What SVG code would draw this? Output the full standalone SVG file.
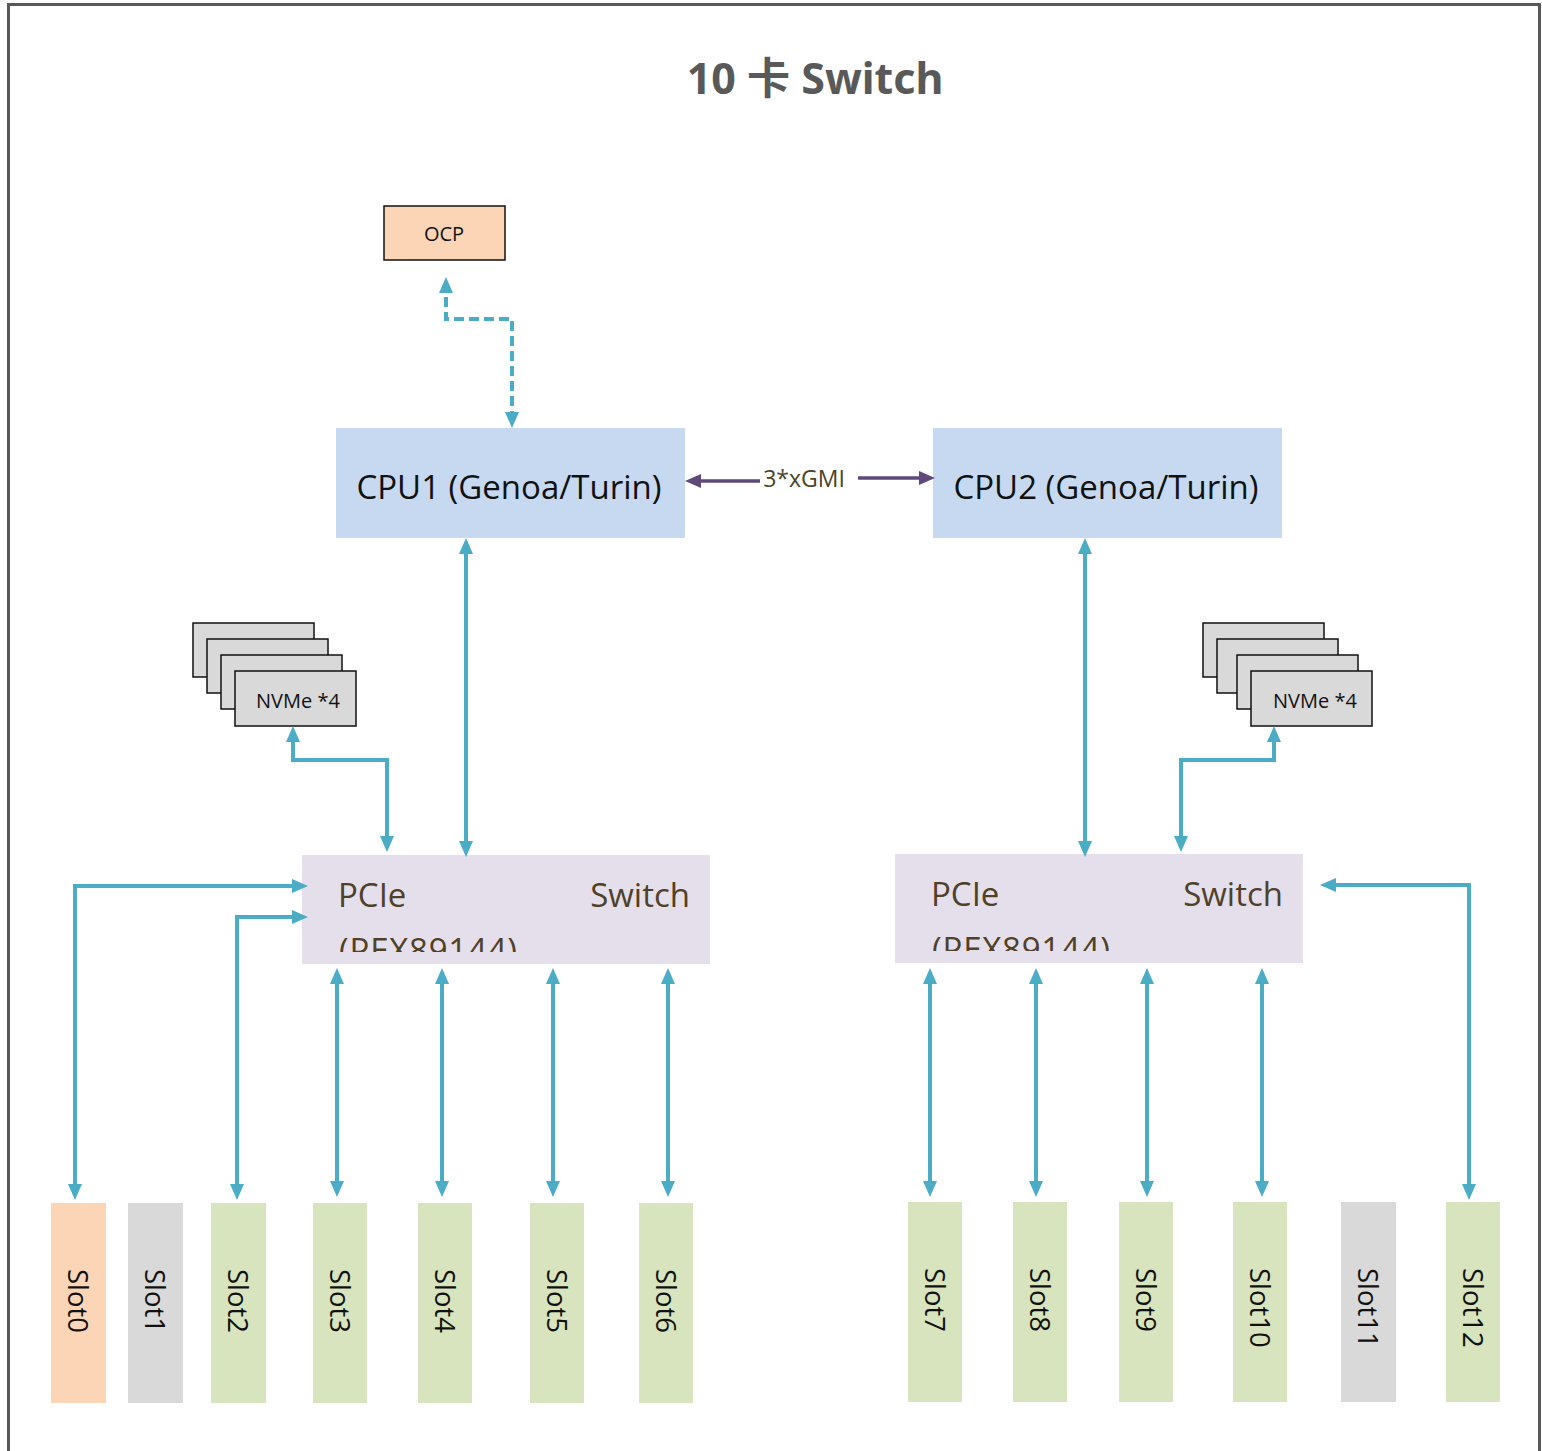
<svg xmlns="http://www.w3.org/2000/svg" width="1542" height="1451" viewBox="0 0 1542 1451">
<style>
.lbl{font-family:"Open Sans","Noto Sans","Liberation Sans",sans-serif;}
.cpu{fill:#C6D9F1;}
.cpuT{font-size:33px;fill:#111;text-anchor:middle;}
.sw{fill:#E5DFEC;}
.swT{font-size:33px;fill:#4F4128;}
.nv{fill:#D9D9D9;stroke:#111;stroke-width:1.5;}
.nvT{font-size:20px;fill:#111;text-anchor:middle;}
.slotT{font-size:27.5px;fill:#111;}
.con{fill:none;stroke:#4BACC6;stroke-width:4;marker-start:url(#ab);marker-end:url(#ab);}
.gmi{fill:none;stroke:#5F497A;stroke-width:3.5;marker-end:url(#ap);}
</style>
<defs>
<marker id="ab" viewBox="0 0 16 14" markerWidth="16" markerHeight="14" refX="11" refY="7" orient="auto-start-reverse" markerUnits="userSpaceOnUse">
<path d="M0,0 L16,7 L0,14 z" fill="#4BACC6"/>
</marker>
<marker id="ap" viewBox="0 0 16 14" markerWidth="16" markerHeight="14" refX="11" refY="7" orient="auto" markerUnits="userSpaceOnUse">
<path d="M0,0 L16,7 L0,14 z" fill="#5F497A"/>
</marker>
<clipPath id="c1"><rect x="302" y="855" width="408" height="97"/></clipPath>
<clipPath id="c2"><rect x="895" y="854" width="408" height="97"/></clipPath>
</defs>
<rect x="8.5" y="4.5" width="1531" height="1470" fill="#fff" stroke="#595959" stroke-width="3"/>
<text x="815" y="94" text-anchor="middle" font-family="'Noto Sans','Noto Sans CJK SC',sans-serif" font-weight="bold" font-size="43" fill="#595959">10 卡 Switch</text>

<g id="ocp"><rect x="384" y="206" width="121" height="54" fill="#FBD5B5" stroke="#111" stroke-width="1.5"/><text class="lbl" x="444" y="241" font-size="20" text-anchor="middle" fill="#111">OCP</text></g>
<g id="cpu1"><rect class="cpu" x="336" y="428" width="349" height="110"/><text class="lbl cpuT" x="509" y="499">CPU1 (Genoa/Turin)</text></g>
<g id="cpu2"><rect class="cpu" x="933" y="428" width="349" height="110"/><text class="lbl cpuT" x="1106" y="499">CPU2 (Genoa/Turin)</text></g>

<g id="nvme1">
<rect class="nv" x="193" y="623" width="121" height="54"/>
<rect class="nv" x="207" y="639" width="121" height="54"/>
<rect class="nv" x="221" y="655" width="121" height="54"/>
<rect class="nv" x="235" y="671" width="121" height="55"/>
<text class="lbl nvT" x="298" y="708">NVMe *4</text>
</g>
<g id="nvme2">
<rect class="nv" x="1203" y="623" width="121" height="54"/>
<rect class="nv" x="1217" y="639" width="121" height="54"/>
<rect class="nv" x="1237" y="655" width="121" height="54"/>
<rect class="nv" x="1251" y="671" width="121" height="55"/>
<text class="lbl nvT" x="1315" y="708">NVMe *4</text>
</g>

<g id="switch1"><rect class="sw" x="302" y="855" width="408" height="109"/>
<g clip-path="url(#c1)"><text class="lbl swT" x="338" y="907">PCIe</text><text class="lbl swT" x="690" y="907" text-anchor="end">Switch</text><text class="lbl swT" x="339" y="962" textLength="178">(PEX89144)</text></g></g>
<g id="switch2"><rect class="sw" x="895" y="854" width="408" height="109"/>
<g clip-path="url(#c2)"><text class="lbl swT" x="931" y="906">PCIe</text><text class="lbl swT" x="1283" y="906" text-anchor="end">Switch</text><text class="lbl swT" x="932" y="961" textLength="178">(PEX89144)</text></g></g>

<g id="slot0"><rect x="51" y="1203" width="55" height="200" fill="#FBD5B5"/><text class="lbl slotT" transform="translate(68,1269) rotate(90)">Slot0</text></g>
<g id="slot1"><rect x="128" y="1203" width="55" height="200" fill="#D9D9D9"/><text class="lbl slotT" transform="translate(145,1269) rotate(90)">Slot1</text></g>
<g id="slot2"><rect x="211" y="1203" width="55" height="200" fill="#D7E4BD"/><text class="lbl slotT" transform="translate(228,1269) rotate(90)">Slot2</text></g>
<g id="slot3"><rect x="313" y="1203" width="54" height="200" fill="#D7E4BD"/><text class="lbl slotT" transform="translate(330,1269) rotate(90)">Slot3</text></g>
<g id="slot4"><rect x="418" y="1203" width="54" height="200" fill="#D7E4BD"/><text class="lbl slotT" transform="translate(435,1269) rotate(90)">Slot4</text></g>
<g id="slot5"><rect x="530" y="1203" width="54" height="200" fill="#D7E4BD"/><text class="lbl slotT" transform="translate(547,1269) rotate(90)">Slot5</text></g>
<g id="slot6"><rect x="639" y="1203" width="54" height="200" fill="#D7E4BD"/><text class="lbl slotT" transform="translate(656,1269) rotate(90)">Slot6</text></g>
<g id="slot7"><rect x="908" y="1202" width="54" height="200" fill="#D7E4BD"/><text class="lbl slotT" transform="translate(925,1268) rotate(90)">Slot7</text></g>
<g id="slot8"><rect x="1013" y="1202" width="54" height="200" fill="#D7E4BD"/><text class="lbl slotT" transform="translate(1030,1268) rotate(90)">Slot8</text></g>
<g id="slot9"><rect x="1119" y="1202" width="54" height="200" fill="#D7E4BD"/><text class="lbl slotT" transform="translate(1136,1268) rotate(90)">Slot9</text></g>
<g id="slot10"><rect x="1233" y="1202" width="54" height="200" fill="#D7E4BD"/><text class="lbl slotT" transform="translate(1250,1268) rotate(90)">Slot10</text></g>
<g id="slot11"><rect x="1341" y="1202" width="55" height="200" fill="#D9D9D9"/><text class="lbl slotT" transform="translate(1358,1268) rotate(90)">Slot11</text></g>
<g id="slot12"><rect x="1446" y="1202" width="54" height="200" fill="#D7E4BD"/><text class="lbl slotT" transform="translate(1463,1268) rotate(90)">Slot12</text></g>

<g id="connectors">
<path class="con" d="M446,282 V319 H512 V423" stroke-dasharray="10 5"/>
<line class="gmi" x1="760" y1="481" x2="690" y2="481"/>
<line class="gmi" x1="858" y1="478" x2="930" y2="478"/>
<text class="lbl" x="804" y="487" font-size="23" text-anchor="middle" fill="#494429">3*xGMI</text>
<path class="con" d="M466,543 V852"/>
<path class="con" d="M1085,543 V852"/>
<path class="con" d="M293,731 V760 H387 V847"/>
<path class="con" d="M1274,731 V760 H1181 V847"/>
<path class="con" d="M75,1195 V886 H303"/>
<path class="con" d="M237,1195 V917 H303"/>
<path class="con" d="M1469,1195 V885 H1325"/>
<path class="con" d="M337,973 V1192"/>
<path class="con" d="M442,973 V1192"/>
<path class="con" d="M553,973 V1192"/>
<path class="con" d="M668,973 V1192"/>
<path class="con" d="M930,973 V1192"/>
<path class="con" d="M1036,973 V1192"/>
<path class="con" d="M1147,973 V1192"/>
<path class="con" d="M1262,973 V1192"/>
</g>
</svg>
